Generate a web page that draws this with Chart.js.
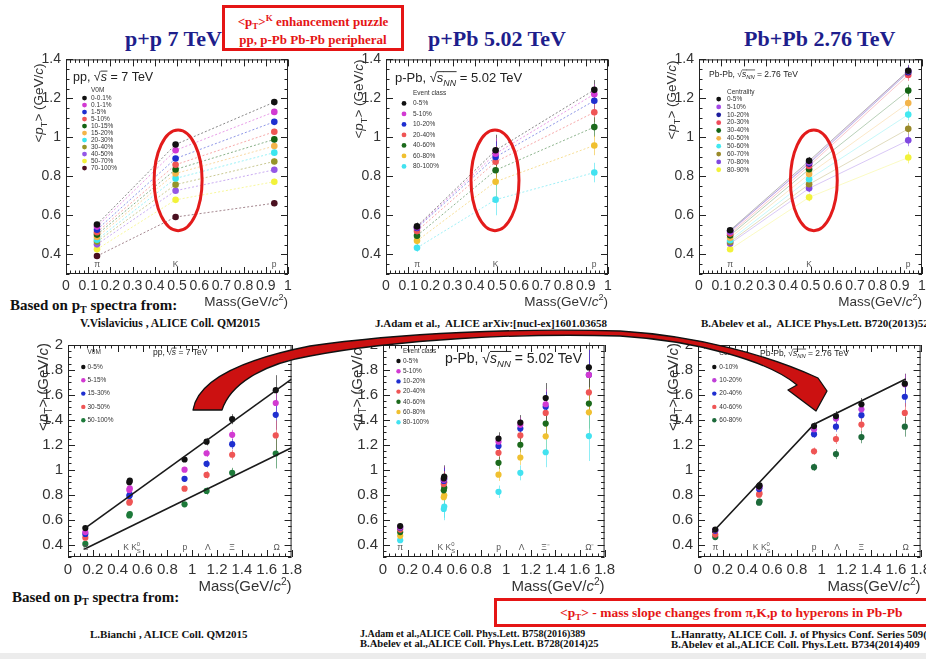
<!DOCTYPE html>
<html>
<head>
<meta charset="utf-8">
<script src="https://cdn.jsdelivr.net/npm/chart.js@4.4.1/dist/chart.umd.min.js"></script>
<style>
  html, body { margin: 0; padding: 0; }
  body { width: 926px; height: 659px; position: relative; overflow: hidden; background: #fff; font-family: "Liberation Serif", serif; }
  canvas { position: absolute; }
  .t { position: absolute; white-space: nowrap; font-family: "Liberation Serif", serif; font-weight: bold; }
  .title { font-size: 22px; line-height: 22px; color: #1e1e8c; }
  .based { font-size: 15px; line-height: 15px; color: #111; }
  .ref { font-size: 11px; line-height: 11px; color: #111; }
  .ref2 { font-size: 10px; line-height: 10px; color: #111; }
  .box { position: absolute; border: 3px solid #e51515; box-sizing: border-box; color: #e51515; font-family: "Liberation Serif", serif; font-weight: bold; font-size: 13px; white-space: nowrap; }
  .lo { position: relative; font-size: 9px; top: 3px; }
  .hi { position: relative; font-size: 9px; top: -5px; }
  svg { position: absolute; left: 0; top: 0; }
</style>
</head>
<body>

<div class="t title" style="left:125px;top:28px">p+p 7 TeV</div>
<div class="t title" style="left:428px;top:28px">p+Pb 5.02 TeV</div>
<div class="t title" style="left:744px;top:28px">Pb+Pb 2.76 TeV</div>

<div class="box" style="left:222px;top:5px;width:182px;height:46px;text-align:center;line-height:15.5px;padding-top:6px">
  &lt;p<span class="lo">T</span>&gt;<span class="hi">K</span> enhancement puzzle<br>pp, p-Pb Pb-Pb peripheral
</div>

<div class="t based" style="left:10px;top:298px">Based on p<span class="lo" style="font-size:10px">T</span> spectra from:</div>
<div class="t ref" style="left:80px;top:318px;font-size:11.6px">V.Vislavicius , ALICE Coll. QM2015</div>
<div class="t ref" style="left:375px;top:318px">J.Adam et al.,&nbsp; ALICE arXiv:[nucl-ex]1601.03658</div>
<div class="t ref" style="left:701px;top:318px">B.Abelev et al.,&nbsp; ALICE Phys.Lett. B720(2013)52</div>

<div class="t based" style="left:12px;top:590px">Based on p<span class="lo" style="font-size:10px">T</span> spectra from:</div>
<div class="t ref" style="left:90px;top:629px">L.Bianchi , ALICE Coll. QM2015</div>
<div class="t ref2" style="left:360px;top:629px">J.Adam et al.,ALICE Coll. Phys.Lett. B758(2016)389</div>
<div class="t ref2" style="left:360px;top:639px;font-size:10.6px">B.Abelev et al.,ALICE Coll. Phys.Lett. B728(2014)25</div>
<div class="t ref2" style="left:671px;top:629px;font-size:10.8px">L.Hanratty, ALICE Coll. J. of Physics Conf. Series 509(2014)012091</div>
<div class="t ref2" style="left:671px;top:639px;font-size:10.8px">B.Abelev et al.,ALICE Coll. Phys.Lett. B734(2014)409</div>

<div class="box" style="left:494px;top:598px;width:440px;height:29px;line-height:23px;padding-left:63px;font-size:13.5px">
  &lt;p<span class="lo">T</span>&gt; - mass slope changes from π,K,p to hyperons in Pb-Pb
</div>
<div style="position:absolute;left:0;top:653px;width:926px;height:6px;background:#ececec"></div>

<script>
// --- tick labels ---
const xTicksTop = [0, 0.1, 0.2, 0.3, 0.4, 0.5, 0.6, 0.7, 0.8, 0.9, 1];
const yTicksTop = [0.4, 0.6, 0.8, 1, 1.2, 1.4];
const xTicksBot = [0, 0.2, 0.4, 0.6, 0.8, 1, 1.2, 1.4, 1.6, 1.8];
const yTicksBot = [0.4, 0.6, 0.8, 1, 1.2, 1.4, 1.6, 1.8, 2];

// --- particle masses (GeV/c2) ---
const massTop = [0.1396, 0.4937, 0.9383];                                   // pi, K, p
const massBot = [0.1396, 0.4937, 0.4976, 0.9383, 1.1157, 1.3217, 1.6725];   // pi, K, K0s, p, Lambda, Xi, Omega

// --- top row: pp 7 TeV ---
const ppTopClasses = ['0-0.1%', '0.1-1%', '1-5%', '5-10%', '10-15%', '15-20%', '20-30%', '30-40%', '40-50%', '50-70%', '70-100%'];
const ppTopPt = [
  [0.554, 0.964, 1.181],
  [0.543, 0.934, 1.131],
  [0.527, 0.892, 1.080],
  [0.514, 0.860, 1.029],
  [0.502, 0.836, 0.990],
  [0.490, 0.815, 0.956],
  [0.476, 0.790, 0.922],
  [0.466, 0.758, 0.877],
  [0.452, 0.727, 0.834],
  [0.427, 0.680, 0.773],
  [0.392, 0.592, 0.663]
];
const ppTopErr = [0.006, 0.01, 0.015];

// --- top row: p-Pb 5.02 TeV ---
const pPbClasses = ['0-5%', '5-10%', '10-20%', '20-40%', '40-60%', '60-80%', '80-100%'];
const pPbTopPt = [
  [0.544, 0.934, 1.244],
  [0.540, 0.917, 1.222],
  [0.536, 0.900, 1.188],
  [0.520, 0.875, 1.129],
  [0.496, 0.832, 1.053],
  [0.470, 0.773, 0.959],
  [0.434, 0.681, 0.820]
];
const pPbTopErr = [0.02, 0.08, 0.05];

// --- top row: Pb-Pb 2.76 TeV ---
const PbPbTopClasses = ['0-5%', '5-10%', '10-20%', '20-30%', '30-40%', '40-50%', '50-60%', '60-70%', '70-80%', '80-90%'];
const PbPbTopPt = [
  [0.524, 0.880, 1.342],
  [0.515, 0.872, 1.340],
  [0.520, 0.866, 1.334],
  [0.507, 0.854, 1.320],
  [0.498, 0.837, 1.240],
  [0.486, 0.812, 1.176],
  [0.473, 0.786, 1.117],
  [0.464, 0.760, 1.044],
  [0.456, 0.739, 0.985],
  [0.427, 0.693, 0.897]
];
const PbPbTopErr = [0.01, 0.02, 0.03];

// --- bottom row: pp 7 TeV ---
const ppBotClasses = ['0-5%', '5-15%', '15-30%', '30-50%', '50-100%'];
const ppBotPt = [
  [0.532, 0.900, 0.912, 1.082, 1.225, 1.405, 1.638],
  [0.500, 0.838, 0.850, 1.000, 1.132, 1.280, 1.535],
  [0.485, 0.790, 0.800, 0.927, 1.047, 1.205, 1.440],
  [0.455, 0.735, 0.745, 0.848, 0.958, 1.120, 1.275],
  [0.405, 0.633, 0.645, 0.722, 0.830, 0.975, 1.130]
];
const ppBotErr = [0.01, 0.02, 0.02, 0.02, 0.03, 0.04, 0.12];
const ppFitX = [0.13, 1.8];
const ppFitUpper = [0.525, 1.727];
const ppFitLower = [0.362, 1.176];

// --- bottom row: p-Pb 5.02 TeV ---
const pPbBotPt = [
  [0.548, 0.930, 0.945, 1.250, 1.378, 1.575, 1.820],
  [0.540, 0.920, 0.935, 1.225, 1.360, 1.525, 1.760],
  [0.535, 0.910, 0.925, 1.190, 1.330, 1.505, 1.760],
  [0.520, 0.885, 0.900, 1.135, 1.275, 1.455, 1.620],
  [0.500, 0.835, 0.855, 1.055, 1.200, 1.370, 1.530],
  [0.470, 0.780, 0.795, 0.960, 1.098, 1.268, 1.460],
  [0.435, 0.685, 0.705, 0.823, 0.975, 1.140, 1.270]
];
const pPbBotErr = [0.02, 0.09, 0.09, 0.05, 0.06, 0.12, 0.2];

// --- bottom row: Pb-Pb 2.76 TeV ---
const PbPbBotClasses = ['0-10%', '10-20%', '20-40%', '40-60%', '60-80%'];
const PbPbBotPt = [
  [0.520, 0.865, 0.875, 1.350, 1.430, 1.525, 1.690],
  [0.515, 0.860, 0.865, 1.325, 1.410, 1.484, 1.685],
  [0.510, 0.845, 0.855, 1.285, 1.345, 1.437, 1.585],
  [0.480, 0.800, 0.810, 1.148, 1.246, 1.362, 1.455],
  [0.460, 0.735, 0.745, 1.020, 1.125, 1.262, 1.345]
];
const PbPbBotErr = [0.01, 0.02, 0.02, 0.03, 0.04, 0.05, 0.08];
const PbPbFitX = [0.116, 0.939, 1.68];
const PbPbFitY = [0.497, 1.365, 1.728];

// --- colours ---
const ppTopColors = ['#111111', '#d23ad2', '#1f2fd0', '#ef5555', '#136313', '#f3b44a', '#3ae6ef', '#95952a', '#9457e6', '#f2f23a', '#4a1020'];
const pPbColors = ['#111111', '#d23ad2', '#1f2fd0', '#ef5555', '#1c6a1c', '#f0c030', '#42e2f0'];
const PbPbTopColors = ['#111111', '#a448e6', '#1c1c9c', '#ef4a5a', '#136313', '#f3b44a', '#42e8f0', '#9a8a2a', '#8048e0', '#f2f23a'];
const ppBotColors = ['#111111', '#d23ad2', '#1f2fd0', '#ef5555', '#1d7a3a'];
const PbPbBotColors = ['#111111', '#c040d8', '#1f2fd0', '#ef5555', '#1d6a3a'];

// --- text helpers ---
const SANS = '"Liberation Sans", Arial, sans-serif';
function fontOf(r) { return (r.i ? 'italic ' : '') + r.s + 'px ' + SANS; }

function layRuns(ctx, runs) {
  let cx = 0, px = 0, pw = 0;
  const out = [];
  runs.forEach(r => {
    ctx.font = fontOf(r);
    const w = ctx.measureText(r.t).width;
    const x0 = r.stack ? px : cx;
    out.push({ r, x: x0, w });
    if (r.stack) cx = px + Math.max(pw, w);
    else { px = cx; pw = w; cx += w; }
  });
  return { out, width: cx };
}

function drawRuns(ctx, runs, x, y, align) {
  const lay = layRuns(ctx, runs);
  const ox = align === 'right' ? x - lay.width : align === 'center' ? x - lay.width / 2 : x;
  ctx.textAlign = 'left';
  ctx.textBaseline = 'alphabetic';
  lay.out.forEach(o => {
    ctx.font = fontOf(o.r);
    ctx.fillText(o.r.t, ox + o.x, y + (o.r.dy || 0));
    if (o.r.ol) ctx.fillRect(ox + o.x, y - o.r.ol * 0.86, o.w + 0.5, Math.max(0.7, o.r.ol * 0.07));
  });
}

const yTitleRuns = s => [{ t: '<', s }, { t: 'p', s, i: 1 }, { t: 'T', s: s * 0.68, dy: s * 0.28 }, { t: '> (GeV/', s }, { t: 'c', s, i: 1 }, { t: ')', s }];
const xTitleRuns = s => [{ t: 'Mass(GeV/', s }, { t: 'c', s, i: 1 }, { t: '2', s: s * 0.68, dy: -s * 0.42 }, { t: ')', s }];
function sqrtLabel(prefix, sub, rest, s) {
  const r = [{ t: prefix + '√', s }, { t: 's', s, i: 1, ol: s }];
  if (sub) r.push({ t: sub, s: s * 0.68, i: 1, dy: s * 0.25, ol: s });
  r.push({ t: rest, s });
  return r;
}
const kRuns = s => [{ t: 'K ', s }, { t: 'K', s }, { t: 'S', s: s * 0.7, dy: s * 0.3 }, { t: '0', s: s * 0.7, dy: -s * 0.45, stack: 1 }];

const partsTop = [{ t: 'π', x: 0.14 }, { t: 'K', x: 0.494 }, { t: 'p', x: 0.938 }];
const partsBot = (xi, om) => [
  { t: 'π', x: 0.14 }, { runs: kRuns(8.5), x: 0.515 }, { t: 'p', x: 0.94 },
  { t: 'Λ', x: 1.125 }, { t: xi, x: 1.32 }, { t: om, x: 1.68 }
];

function alpha(hex, a) {
  const n = parseInt(hex.slice(1), 16);
  return `rgba(${n >> 16},${(n >> 8) & 255},${n & 255},${a})`;
}

// --- panel definitions (frame = chart area in page pixels) ---
const panels = [
  {
    frame: [66, 58, 288, 274], xr: [0, 1], yr: [0.3, 1.4], xt: xTicksTop, yt: yTicksTop, minor: [0.02, 0.05],
    tick: 14, title: 13.5, yTitle: [-23, 4], xTitle: 32,
    mass: massTop, values: ppTopPt, names: ppTopClasses, colors: ppTopColors, errs: ppTopErr, link: 'dash', r: 3.3,
    legend: { title: 'V0M', mx: 18.5, tx: 25, ty: 31, y0: 38.7, step: 7, size: 6.5, r: 2.4 },
    label: { runs: sqrtLabel('pp, ', '', ' = 7 TeV', 12.5), dx: 7, dy: 22 },
    ellipse: [0.505, 0.78, 0.108, 0.258], parts: partsTop
  },
  {
    frame: [386, 58, 608, 274], xr: [0, 1], yr: [0.3, 1.4], xt: xTicksTop, yt: yTicksTop, minor: [0.02, 0.05],
    tick: 14, title: 13.5, yTitle: [-23, 0], xTitle: 32,
    mass: massTop, values: pPbTopPt, names: pPbClasses, colors: pPbColors, errs: pPbTopErr, link: 'dash', r: 3.3,
    legend: { title: 'Event class', mx: 18, tx: 27, ty: 34, y0: 44, step: 10.5, size: 6.5, r: 2.4 },
    label: { runs: sqrtLabel('p-Pb, ', 'NN', ' = 5.02 TeV', 13), dx: 9, dy: 23 },
    ellipse: [0.491, 0.78, 0.108, 0.258], parts: partsTop
  },
  {
    frame: [699, 58, 922, 274], xr: [0, 1], yr: [0.3, 1.4], xt: xTicksTop, yt: yTicksTop, minor: [0.02, 0.05],
    tick: 14, title: 13.5, yTitle: [-23, 1], xTitle: 32,
    mass: massTop, values: PbPbTopPt, names: PbPbTopClasses, colors: PbPbTopColors, errs: PbPbTopErr, link: 'solid', r: 3.3,
    legend: { title: 'Centrality', mx: 19.7, tx: 28, ty: 32.7, y0: 39.7, step: 7.85, size: 6.5, r: 2.4 },
    label: { runs: sqrtLabel('Pb-Pb, ', 'NN', ' = 2.76 TeV', 8.5), dx: 10, dy: 17.5 },
    ellipse: [0.515, 0.78, 0.105, 0.258], parts: partsTop
  },
  {
    frame: [68, 343, 292, 557], xr: [0, 1.8], yr: [0.3, 2], xt: xTicksBot, yt: yTicksBot, minor: [0.05, 0.05],
    tick: 15, title: 15, yTitle: [-20, -2], xTitle: 34,
    mass: massBot, values: ppBotPt, names: ppBotClasses, colors: ppBotColors, errs: ppBotErr, link: null, r: 3.1,
    fits: [{ x: ppFitX, y: ppFitUpper }, { x: ppFitX, y: ppFitLower }],
    legend: { title: 'V0M', mx: 15.3, tx: 19.5, ty: 7, y0: 22, step: 13.3, size: 6.5, r: 2.2 },
    label: { runs: sqrtLabel('pp, ', '', ' = 7 TeV', 8.5), dx: 85, dy: 10 },
    parts: partsBot('Ξ', 'Ω')
  },
  {
    frame: [383, 343, 605, 557], xr: [0, 1.8], yr: [0.3, 2], xt: xTicksBot, yt: yTicksBot, minor: [0.05, 0.05],
    tick: 15, title: 15, yTitle: [-21, -2], xTitle: 34,
    mass: massBot, values: pPbBotPt, names: pPbClasses, colors: pPbColors, errs: pPbBotErr, link: null, r: 3.1,
    legend: { title: 'Event class', mx: 15.5, tx: 20, ty: 6, y0: 16, step: 10.2, size: 6.5, r: 2.2 },
    label: { runs: sqrtLabel('p-Pb, ', 'NN', ' = 5.02 TeV', 14), dx: 62, dy: 18 },
    parts: partsBot('Ξ⁻', 'Ω⁻')
  },
  {
    frame: [698, 343, 921, 557], xr: [0, 1.8], yr: [0.3, 2], xt: xTicksBot, yt: yTicksBot, minor: [0.05, 0.05],
    tick: 15, title: 15, yTitle: [-20, -2], xTitle: 34,
    mass: massBot, values: PbPbBotPt, names: PbPbBotClasses, colors: PbPbBotColors, errs: PbPbBotErr, link: null, r: 3.1,
    fits: [{ x: PbPbFitX, y: PbPbFitY }],
    legend: { title: 'Centrality', mx: 16.3, tx: 21.3, ty: 8, y0: 22, step: 13.3, size: 6.5, r: 2.2 },
    label: { runs: sqrtLabel('Pb-Pb, ', 'NN', ' = 2.76 TeV', 8.5), dx: 62, dy: 11 },
    parts: partsBot('Ξ', 'Ω')
  }
];

// ROOT-like frame, inner ticks, error bars, titles, legend
function rootPlugin(p) {
  return {
    id: 'root',
    beforeDatasetsDraw(chart) {
      const { ctx, scales: { x, y } } = chart;
      chart.data.datasets.forEach(ds => {
        if (!ds.errs) return;
        ctx.save();
        ctx.strokeStyle = ds.errColor;
        ctx.lineWidth = 1;
        ctx.beginPath();
        ds.data.forEach((pt, i) => {
          const e = ds.errs[i];
          const px = Math.round(x.getPixelForValue(pt.x)) + 0.5;
          ctx.moveTo(px, y.getPixelForValue(pt.y - e));
          ctx.lineTo(px, y.getPixelForValue(pt.y + e));
        });
        ctx.stroke();
        ctx.restore();
      });
    },
    afterDatasetsDraw(chart) {
      if (!p.ellipse) return;
      const { ctx, scales: { x, y } } = chart;
      const [cx, cy, rx, ry] = p.ellipse;
      const px = x.getPixelForValue(cx), py = y.getPixelForValue(cy);
      ctx.save();
      ctx.strokeStyle = '#e31b1b';
      ctx.lineWidth = 3;
      ctx.beginPath();
      ctx.ellipse(px, py, Math.abs(x.getPixelForValue(cx + rx) - px), Math.abs(y.getPixelForValue(cy + ry) - py), 0, 0, 2 * Math.PI);
      ctx.stroke();
      ctx.restore();
    },
    afterDraw(chart) {
      const { ctx, chartArea: a, scales: { x, y } } = chart;
      ctx.save();
      // frame
      ctx.strokeStyle = '#222';
      ctx.lineWidth = 1;
      ctx.strokeRect(a.left + 0.5, a.top + 0.5, a.right - a.left - 1, a.bottom - a.top - 1);
      const steps = (lo, hi, st) => {
        const out = [];
        for (let k = Math.ceil(lo / st - 1e-6); k * st <= hi + 1e-9; k++) out.push(+(k * st).toFixed(4));
        return out;
      };
      const isMajor = (list, v) => list.some(t => Math.abs(t - v) < 1e-6);
      ctx.beginPath();
      steps(x.min, x.max, p.minor[0]).forEach(v => {
        const px = Math.round(x.getPixelForValue(v)) + 0.5;
        const len = isMajor(p.xt, v) ? 7 : 3.5;
        ctx.moveTo(px, a.bottom); ctx.lineTo(px, a.bottom - len);
        ctx.moveTo(px, a.top); ctx.lineTo(px, a.top + len);
      });
      steps(y.min, y.max, p.minor[1]).forEach(v => {
        const py = Math.round(y.getPixelForValue(v)) + 0.5;
        const len = isMajor(p.yt, v) ? 7 : 3.5;
        ctx.moveTo(a.left, py); ctx.lineTo(a.left + len, py);
        ctx.moveTo(a.right, py); ctx.lineTo(a.right - len, py);
      });
      ctx.stroke();

      // axis titles
      ctx.fillStyle = '#333';
      ctx.save();
      ctx.translate(a.left + p.yTitle[0], a.top + p.yTitle[1]);
      ctx.rotate(-Math.PI / 2);
      drawRuns(ctx, yTitleRuns(p.title), 0, 0, 'right');
      ctx.restore();
      drawRuns(ctx, xTitleRuns(p.title), a.right, a.bottom + p.xTitle, 'right');

      // system label
      ctx.fillStyle = '#222';
      drawRuns(ctx, p.label.runs, a.left + p.label.dx, a.top + p.label.dy, 'left');

      // particle labels
      ctx.fillStyle = '#555';
      p.parts.forEach(pt => {
        const px = x.getPixelForValue(pt.x);
        drawRuns(ctx, pt.runs || [{ t: pt.t, s: 8.5 }], px, a.bottom - 7, 'center');
      });

      // legend
      const lg = p.legend;
      ctx.textBaseline = 'middle';
      ctx.textAlign = 'left';
      ctx.font = lg.size + 'px ' + SANS;
      ctx.fillStyle = '#333';
      ctx.fillText(lg.title, a.left + lg.tx, a.top + lg.ty);
      p.names.forEach((n, k) => {
        const yy = a.top + lg.y0 + k * lg.step;
        ctx.fillStyle = p.colors[k];
        ctx.beginPath();
        ctx.arc(a.left + lg.mx, yy, lg.r, 0, 2 * Math.PI);
        ctx.fill();
        ctx.fillStyle = '#333';
        ctx.fillText(n, a.left + lg.tx, yy);
      });
      ctx.restore();
    }
  };
}

function makePanel(p) {
  const [L, T, R, B] = p.frame;
  const cv = document.createElement('canvas');
  cv.width = R - L + 74;
  cv.height = B - T + 56;
  cv.style.left = (L - 60) + 'px';
  cv.style.top = (T - 12) + 'px';
  document.body.appendChild(cv);

  const datasets = p.values.map((vals, k) => ({
    data: p.mass.map((m, i) => ({ x: m, y: vals[i] })),
    showLine: !!p.link,
    borderColor: alpha(p.colors[k], p.link === 'solid' ? 0.3 : 0.5),
    borderWidth: 1,
    borderDash: p.link === 'dash' ? [2, 2] : [],
    pointRadius: p.r,
    pointHoverRadius: p.r,
    pointBackgroundColor: p.colors[k],
    pointBorderWidth: 0,
    errs: p.errs,
    errColor: alpha(p.colors[k], 0.6)
  }));
  (p.fits || []).forEach(f => datasets.push({
    data: f.x.map((xv, i) => ({ x: xv, y: f.y[i] })),
    showLine: true, borderColor: '#1a1a1a', borderWidth: 1.6, pointRadius: 0, order: -1
  }));

  const tickFont = { family: 'Liberation Sans', size: p.tick };
  const fmt = v => String(+(+v).toFixed(2));
  new Chart(cv, {
    type: 'scatter',
    data: { datasets },
    options: {
      responsive: false,
      animation: false,
      layout: { padding: { left: 0, top: 12, right: 14, bottom: 0 } },
      plugins: { legend: { display: false }, tooltip: { enabled: false } },
      scales: {
        x: {
          type: 'linear', min: p.xr[0], max: p.xr[1],
          grid: { display: false, drawTicks: false }, border: { display: false },
          ticks: { font: tickFont, color: '#333', padding: 4, maxRotation: 0, autoSkip: false, callback: fmt },
          afterBuildTicks: s => { s.ticks = p.xt.map(v => ({ value: v })); },
          afterFit: s => { s.height = 44; }
        },
        y: {
          type: 'linear', min: p.yr[0], max: p.yr[1],
          grid: { display: false, drawTicks: false }, border: { display: false },
          ticks: { font: tickFont, color: '#333', padding: 5, autoSkip: false, callback: fmt },
          afterBuildTicks: s => { s.ticks = p.yt.map(v => ({ value: v })); },
          afterFit: s => { s.width = 60; }
        }
      }
    },
    plugins: [rootPlugin(p)]
  });
}

panels.forEach(makePanel);
</script>

<svg width="926" height="659">
  <path d="M193,410 C197,385 230,362 310,346 C400,333 520,328 620,331 C700,336 770,356 818,378
           L827,391 L816,411 L788,390 L797,385
           C770,362 700,341 620,336 C520,333 400,339 310,356 C262,364 230,385 222,410 Z"
        fill="#cc1111" stroke="#111" stroke-width="1.3" stroke-linejoin="round"/>
</svg>

</body>
</html>
